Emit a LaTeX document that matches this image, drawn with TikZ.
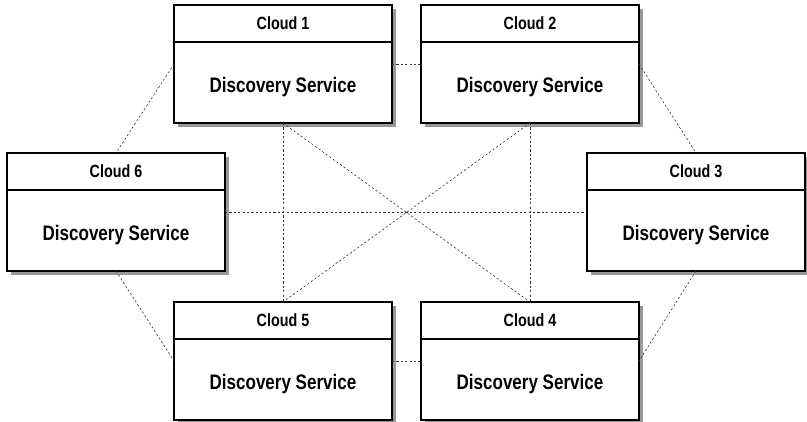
\documentclass[tikz,border=0pt]{standalone}
\usepackage{fontspec}
\setmainfont{Liberation Sans}[FakeStretch=0.81]
\usetikzlibrary{backgrounds}
\usetikzlibrary{calc}

\begin{document}
\begin{tikzpicture}[x=1pt,y=-1pt,
    cloudbox/.style={draw=black, line width=1.3pt, fill=white, minimum width=218pt,
        minimum height=118pt, inner sep=0pt, outer sep=0pt},
    shadowfill/.style={fill=black!40, draw=none},
    headline/.style={black, line width=1.3pt},
    headtext/.style={anchor=base, inner sep=0pt, font=\bfseries\fontsize{17.7}{20}\selectfont},
    bodytext/.style={anchor=base, inner sep=0pt, font=\bfseries\fontsize{21}{24}\selectfont},
    link/.style={black!80, line width=0.6pt, dash pattern=on 2.2pt off 2.2pt}]
    \useasboundingbox (0,0) rectangle (807,422);

    % the six clouds
    \node[cloudbox] (c1) at (283,64) {};
    \node[cloudbox] (c2) at (530,64) {};
    \node[cloudbox] (c3) at (696,212) {};
    \node[cloudbox] (c4) at (530,361) {};
    \node[cloudbox] (c5) at (283,361) {};
    \node[cloudbox] (c6) at (116,212) {};

    % shadows
    \begin{scope}[on background layer]
        \fill[shadowfill] ($(c1.south west)+(4,4)$) rectangle ($(c1.north east)+(4,4)$);
        \fill[shadowfill] ($(c2.south west)+(4,4)$) rectangle ($(c2.north east)+(4,4)$);
        \fill[shadowfill] ($(c3.south west)+(4,4)$) rectangle ($(c3.north east)+(4,4)$);
        \fill[shadowfill] ($(c4.south west)+(4,4)$) rectangle ($(c4.north east)+(4,4)$);
        \fill[shadowfill] ($(c5.south west)+(4,4)$) rectangle ($(c5.north east)+(4,4)$);
        \fill[shadowfill] ($(c6.south west)+(4,4)$) rectangle ($(c6.north east)+(4,4)$);
    \end{scope}

    % dashed links
    \draw[link] (c1.east) -- (c2.west);
    \draw[link] (c6.east) -- (c3.west);
    \draw[link] (c5.east) -- (c4.west);
    \draw[link] (c1.west) -- (c6.north);
    \draw[link] (c2.east) -- (c3.north);
    \draw[link] (c6.south) -- (c5.west);
    \draw[link] (c3.south) -- (c4.east);
    \draw[link] (c1.south) -- (c5.north);
    \draw[link] (c2.south) -- (c4.north);
    \draw[link] (c1.south) -- (c4.north);
    \draw[link] (c2.south) -- (c5.north);

    % header lines
    \draw[headline] ([yshift=-37pt]c1.north west) -- ([yshift=-37pt]c1.north east);
    \draw[headline] ([yshift=-37pt]c2.north west) -- ([yshift=-37pt]c2.north east);
    \draw[headline] ([yshift=-37pt]c3.north west) -- ([yshift=-37pt]c3.north east);
    \draw[headline] ([yshift=-37pt]c4.north west) -- ([yshift=-37pt]c4.north east);
    \draw[headline] ([yshift=-37pt]c5.north west) -- ([yshift=-37pt]c5.north east);
    \draw[headline] ([yshift=-37pt]c6.north west) -- ([yshift=-37pt]c6.north east);

    % texts
    \node[headtext] (c1h) at ([yshift=34pt]c1.center) {Cloud 1};
    \node[headtext] (c2h) at ([yshift=34pt]c2.center) {Cloud 2};
    \node[headtext] (c3h) at ([yshift=34pt]c3.center) {Cloud 3};
    \node[headtext] (c4h) at ([yshift=34pt]c4.center) {Cloud 4};
    \node[headtext] (c5h) at ([yshift=34pt]c5.center) {Cloud 5};
    \node[headtext] (c6h) at ([yshift=34pt]c6.center) {Cloud 6};

    \node[bodytext] (c1b) at ([yshift=-28.5pt]c1.center) {Discovery Service};
    \node[bodytext] (c2b) at ([yshift=-28.5pt]c2.center) {Discovery Service};
    \node[bodytext] (c3b) at ([yshift=-28.5pt]c3.center) {Discovery Service};
    \node[bodytext] (c4b) at ([yshift=-28.5pt]c4.center) {Discovery Service};
    \node[bodytext] (c5b) at ([yshift=-28.5pt]c5.center) {Discovery Service};
    \node[bodytext] (c6b) at ([yshift=-28.5pt]c6.center) {Discovery Service};
\end{tikzpicture}
\end{document}
